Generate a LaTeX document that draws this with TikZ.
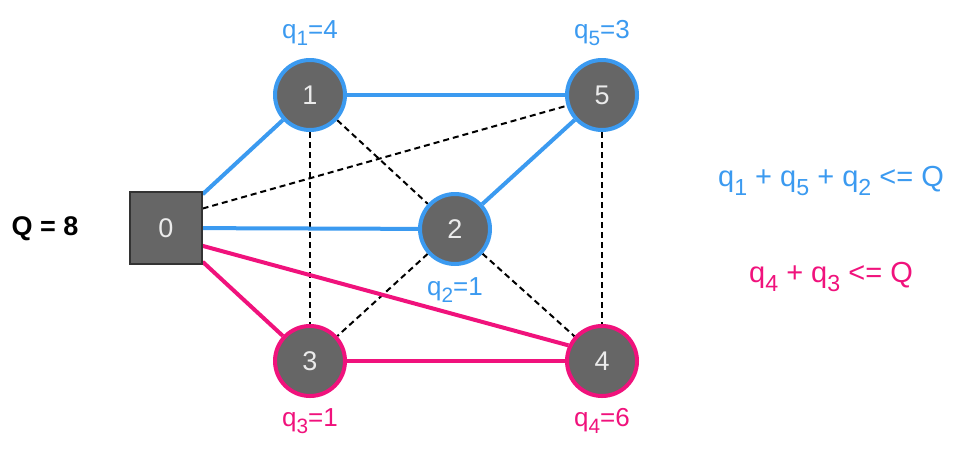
\documentclass[tikz,border=0pt]{standalone}
\usepackage{fontspec}
\setmainfont{Liberation Sans}
\usetikzlibrary{backgrounds}
\definecolor{cblue}{HTML}{3B9AF0}
\definecolor{cpink}{HTML}{F0127C}
\definecolor{cgray}{HTML}{666666}
\newcommand{\sbs}[1]{\raisebox{-0.28em}{\scalebox{0.8}{#1}}}
\begin{document}
\begin{tikzpicture}[x=1pt,y=-1pt,
  cnode/.style={circle,fill=cgray,line width=4pt,minimum size=70pt,inner sep=0pt,text=white!92!black,font=\fontsize{27}{30}\selectfont},
  bnode/.style={cnode,draw=cblue},
  pnode/.style={cnode,draw=cpink},
  depot/.style={rectangle,fill=cgray,draw=black!80,line width=1.2pt,minimum size=72pt,inner sep=0pt,text=white!92!black,font=\fontsize{27}{30}\selectfont},
  bedge/.style={cblue,line width=4pt},
  pedge/.style={cpink,line width=4pt},
  dedge/.style={black,line width=2pt,dash pattern=on 6pt off 4pt},
  lbl/.style={font=\fontsize{26}{30}\selectfont,inner sep=0pt},
  eq/.style={font=\fontsize{29}{32}\selectfont,inner sep=0pt}]
\useasboundingbox (0,0) rectangle (968,456);
\node[depot] (n0) at (166,228) {0};
\node[bnode] (n1) at (310,95) {1};
\node[bnode] (n5) at (602,95) {5};
\node[bnode] (n2) at (455,229) {2};
\node[pnode] (n3) at (310,361) {3};
\node[pnode] (n4) at (602,361) {4};
\begin{scope}[on background layer]
% dashed edges
\draw[dedge] (n1) -- (n3);
\draw[dedge] (n1) -- (n2);
\draw[dedge] (n0.28) -- (n5.197);
\draw[dedge] (n2) -- (n3);
\draw[dedge] (n2) -- (n4);
\draw[dedge] (n5) -- (n4);
% blue edges
\draw[bedge] (n0) -- (n1);
\draw[bedge] (n1) -- (n5);
\draw[bedge] (n5) -- (n2);
\draw[bedge] (n0) -- (n2);
% pink edges
\draw[pedge] (n0) -- (n3);
\draw[pedge] (n3) -- (n4);
\draw[pedge] (n0.-26) -- (n4.155);
\end{scope}
% labels
\node[lbl,text=cblue] (l1) at (310,33) {q\sbs{1}=4};
\node[lbl,text=cblue] (l5) at (602,33) {q\sbs{5}=3};
\node[lbl,text=cblue] (l2) at (455,290) {q\sbs{2}=1};
\node[lbl,text=cpink] (l3) at (310,421) {q\sbs{3}=1};
\node[lbl,text=cpink] (l4) at (602,421) {q\sbs{4}=6};
\node[lbl,font=\fontsize{27}{30}\selectfont\bfseries] (qq) at (45,229) {Q = 8};
\node[eq,text=cblue] (e1) at (831,181) {q\sbs{1} + q\sbs{5} + q\sbs{2} <= Q};
\node[eq,text=cpink] (e2) at (831,277) {q\sbs{4} + q\sbs{3} <= Q};
\end{tikzpicture}
\end{document}
